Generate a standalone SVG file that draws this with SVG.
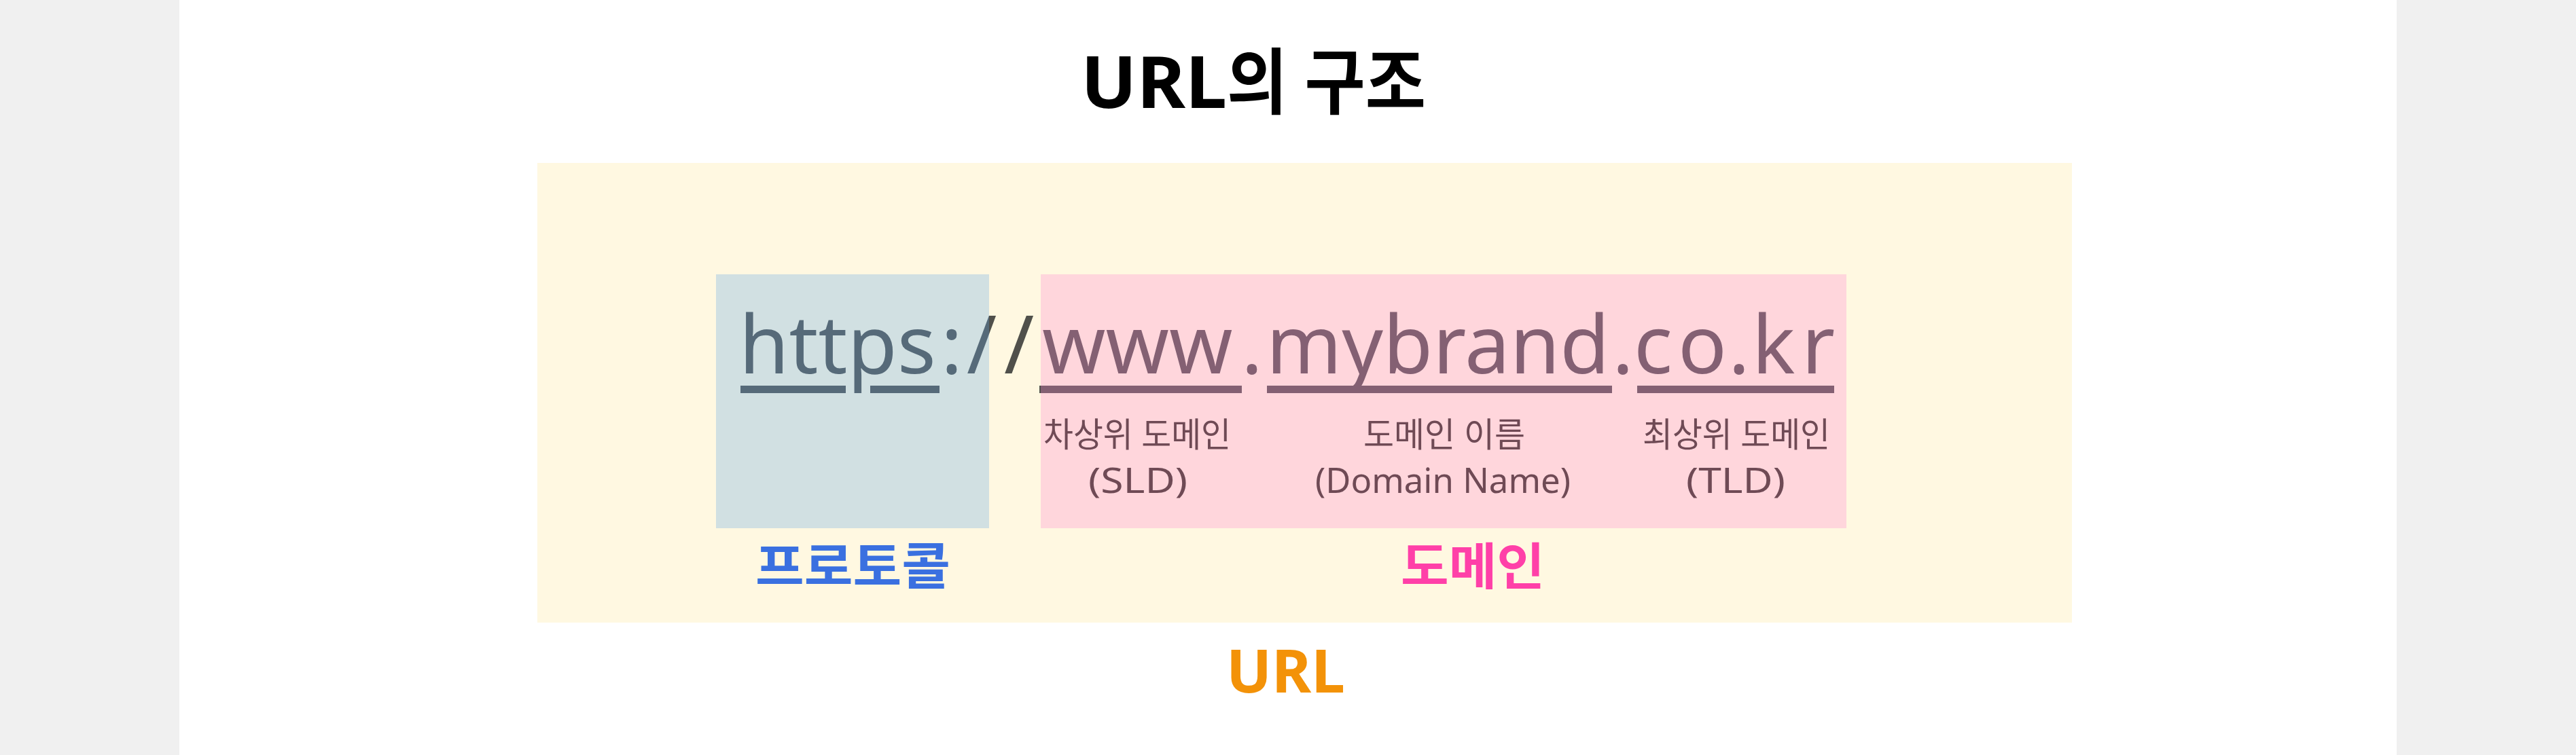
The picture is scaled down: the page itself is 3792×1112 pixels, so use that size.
<svg xmlns="http://www.w3.org/2000/svg" width="3792" height="1112" viewBox="0 0 3792 1112">
<style>
  text { font-family: "Noto Sans", "Noto Sans CJK KR", sans-serif; }
  .title { font-size: 106px; font-weight: 700; fill: #000000; }
  .url { font-size: 119px; font-weight: 400; fill: #50504b; }
  .ul { fill: #50504b; }
  .label { font-size: 50px; fill: #6f4a55; }
  .sub { font-size: 51px; fill: #6f4a55; }
  .head { font-size: 74px; font-weight: 700; }
  .ov-blue { fill: #66a8e3; fill-opacity: 0.3; }
  .ov-pink { fill: #ff87d2; fill-opacity: 0.3; }
</style>

<g id="background">
  <rect x="0" y="0" width="3792" height="1112" fill="#f0f0f0"/>
  <rect x="264" y="0" width="3264" height="1112" fill="#ffffff"/>
</g>

<g id="title">
  <text class="title" x="1591" y="159" textLength="215" lengthAdjust="spacingAndGlyphs">URL</text>
  <text class="title" x="1806" y="159" textLength="293" lengthAdjust="spacingAndGlyphs">의 구조</text>
</g>

<g id="url">
  <rect x="791" y="240" width="2259" height="677" fill="#fff8e1"/>
  <g id="url-text">
    <text class="url" y="550"><tspan x="1088">https</tspan><tspan x="1385">:</tspan><tspan x="1423">/</tspan><tspan x="1478">/</tspan><tspan x="1534">www</tspan><tspan x="1827">.</tspan><tspan x="1864">mybrand</tspan><tspan x="2373">.</tspan><tspan x="2405">c</tspan><tspan x="2470">o</tspan><tspan x="2544">.</tspan><tspan x="2579">k</tspan><tspan x="2652">r</tspan></text>
    <rect class="ul" x="1090" y="568" width="155" height="11"/>
    <rect class="ul" x="1281" y="568" width="102" height="11"/>
    <rect class="ul" x="1530" y="568" width="298" height="11"/>
    <rect class="ul" x="1865" y="568" width="508" height="11"/>
    <rect class="ul" x="2410" y="568" width="290" height="11"/>
  </g>
  <text id="url-label" class="head" x="1805" y="1020" fill="#f39208" textLength="175" lengthAdjust="spacingAndGlyphs" style="font-size:88px">URL</text>
</g>

<g id="protocol">
  <rect class="ov-blue" x="1054" y="404" width="402" height="374"/>
  <text class="head" x="1112" y="861" fill="#3a70e0" textLength="287" lengthAdjust="spacingAndGlyphs">프로토콜</text>
</g>

<g id="domain">
  <rect class="ov-pink" x="1532" y="404" width="1186" height="374"/>
  <text class="head" x="2062" y="861" fill="#ff40a8" textLength="212" lengthAdjust="spacingAndGlyphs">도메인</text>
</g>

<g id="sld">
  <text class="label" x="1536" y="658" textLength="276" lengthAdjust="spacingAndGlyphs">차상위 도메인</text>
  <text class="sub" x="1602" y="726" textLength="146" lengthAdjust="spacingAndGlyphs">(SLD)</text>
</g>

<g id="domain-name">
  <text class="label" x="2007" y="658" textLength="238" lengthAdjust="spacingAndGlyphs">도메인 이름</text>
  <text class="sub" x="1936" y="726" textLength="376" lengthAdjust="spacingAndGlyphs">(Domain Name)</text>
</g>

<g id="tld">
  <text class="label" x="2418" y="658" textLength="276" lengthAdjust="spacingAndGlyphs">최상위 도메인</text>
  <text class="sub" x="2482" y="726" textLength="146" lengthAdjust="spacingAndGlyphs">(TLD)</text>
</g>

<g id="connectors"></g>
</svg>
